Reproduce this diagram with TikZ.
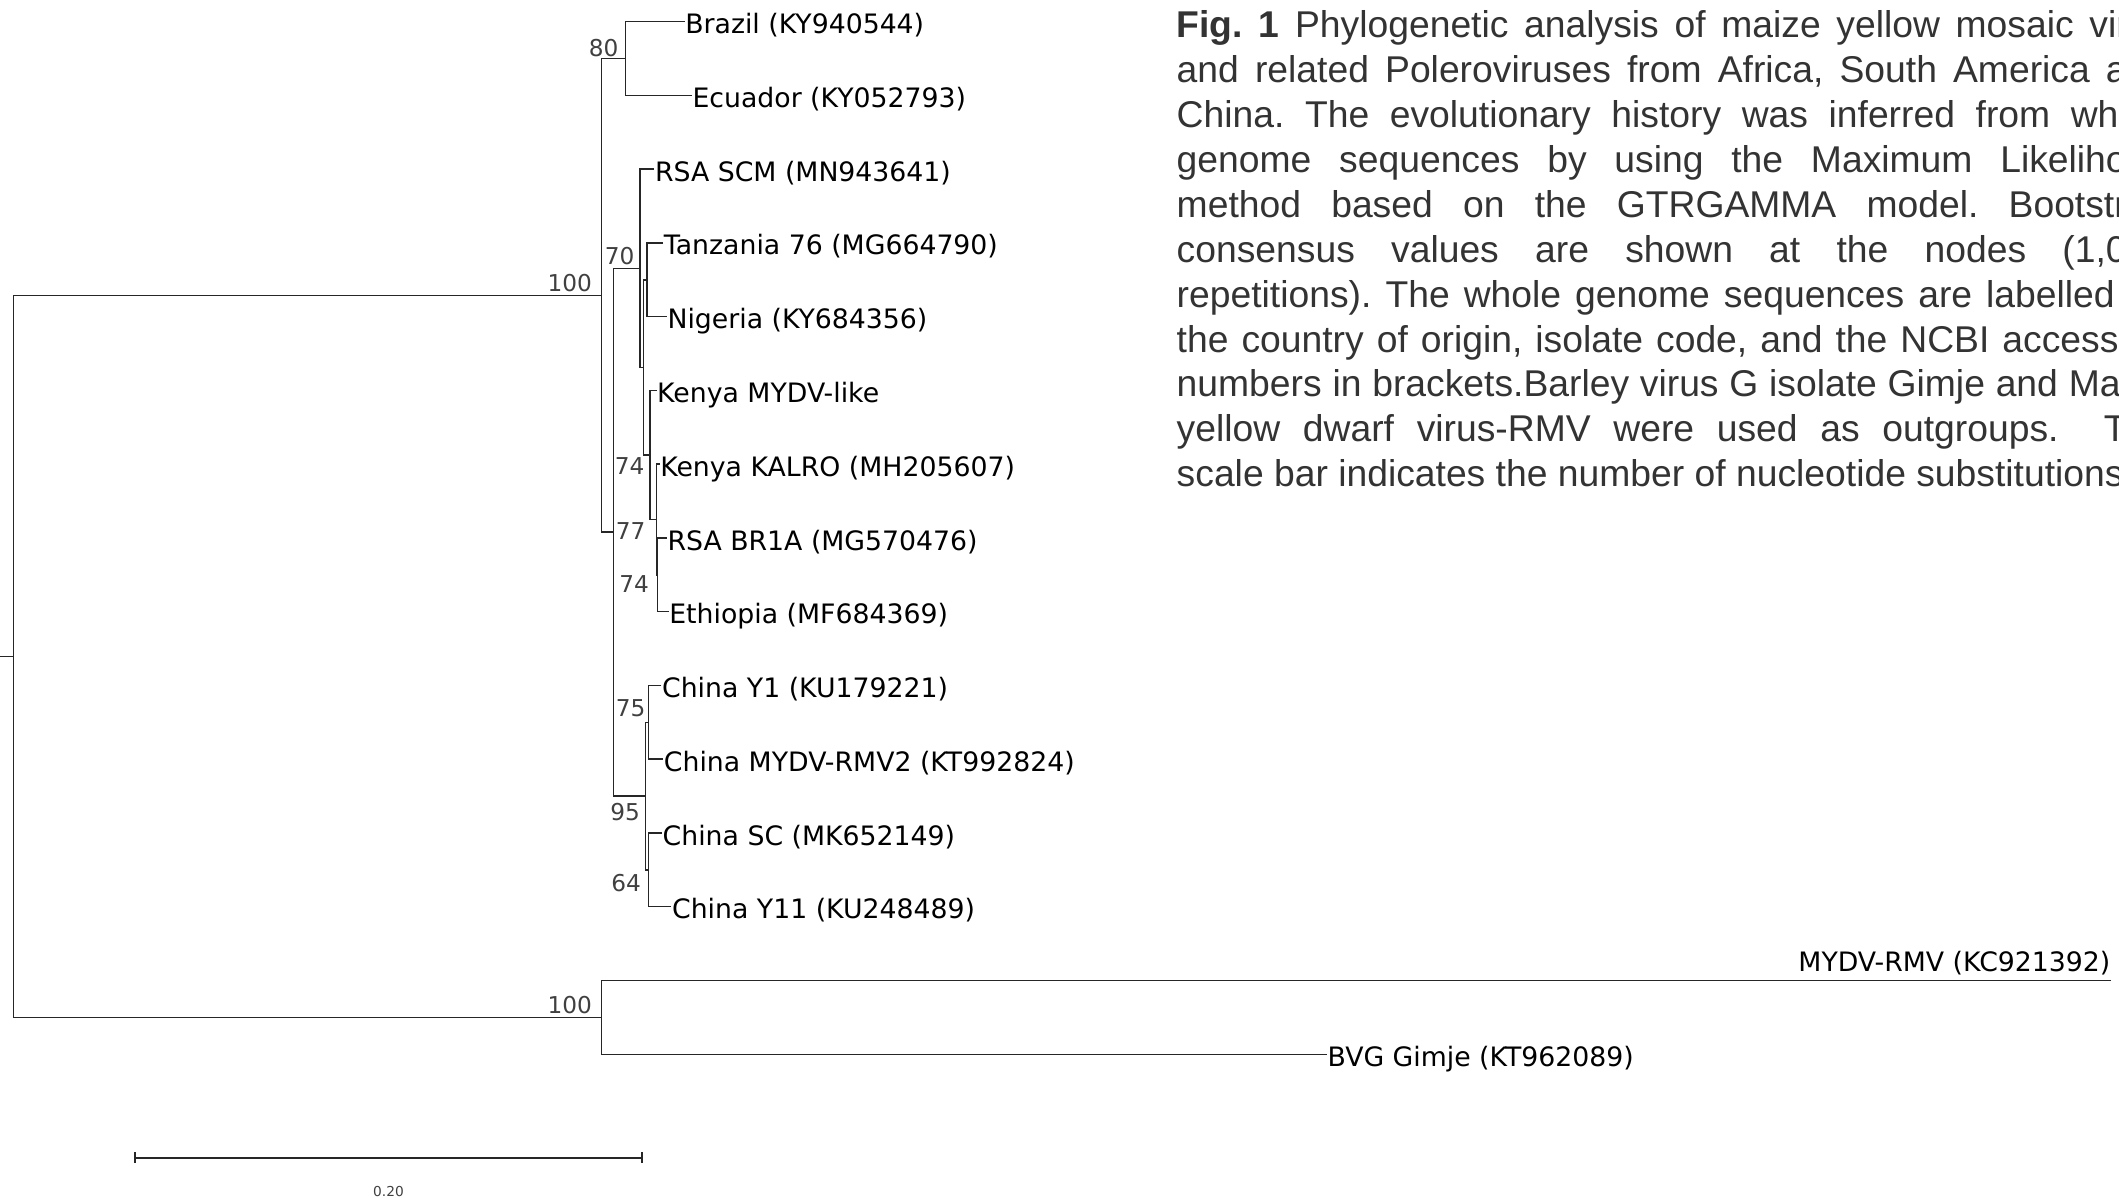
\documentclass[tikz,border=0pt]{standalone}
\usepackage{fontspec}
\setmainfont{DejaVu Sans}
\newfontfamily\capfont{Liberation Sans}
\usetikzlibrary{arrows.meta}
\frenchspacing
\definecolor{capgray}{HTML}{333333}
\definecolor{bootgray}{HTML}{404040}
\tikzset{
    branch/.style={line width=0.4pt, draw=black!85},
    tip/.style={anchor=base west, inner sep=0pt, yshift=-0.12cm,
                font=\fontsize{7.6}{9}\selectfont},
    tip above/.style={anchor=base east, inner sep=0pt, yshift=0.09cm,
                font=\fontsize{7.6}{9}\selectfont},
    boot/.style={anchor=base east, inner sep=0pt, text=bootgray,
                 font=\fontsize{6.6}{8}\selectfont},
    scalebar/.style={{Bar[width=0.11cm]}-{Bar[width=0.11cm]},
                     line width=0.6pt, draw=black!85},
    scale label/.style={inner sep=0pt, text=bootgray,
                 font=\fontsize{3.9}{5}\selectfont},
    caption line/.style={anchor=base west, inner sep=0pt, text=capgray,
                 font=\capfont\fontsize{10.6}{12.8}\selectfont},
}
% two children joined at a node: child1 -| node |- child2
\newcommand{\clade}[3]{
    \draw[branch] (#2) -| (#1) |- (#3);
}
\newcommand{\capline}[2]{
    \node[caption line] (cap#1) at (1176,{38+44.87*(#1-1)})
        {\makebox[9.91cm][s]{#2}};
}

\begin{document}
\begin{tikzpicture}[x=0.01cm, y=-0.01cm]
    \useasboundingbox (0,0) rectangle (2119,1198);
    \clip (0,0) rectangle (2119,1198);

    % tips
    \coordinate (tBrazil)   at (684.6,21.7);
    \coordinate (tEcuador)  at (691.8,95.5);
    \coordinate (tRsaScm)   at (654.3,169.2);
    \coordinate (tTanzania) at (663.2,243);
    \coordinate (tNigeria)  at (666.8,316.7);
    \coordinate (tKenyaMy)  at (656.5,390.5);
    \coordinate (tKenyaKa)  at (659.6,464.2);
    \coordinate (tRsaBr)    at (666.8,538);
    \coordinate (tEthiopia) at (668.6,611.7);
    \coordinate (tChinaY1)  at (661.4,685.5);
    \coordinate (tChinaRmv) at (663.2,759.2);
    \coordinate (tChinaSc)  at (662,833);
    \coordinate (tChinaY11) at (671.4,906.7);
    \coordinate (tMydvRmv)  at (2111,980.4);
    \coordinate (tBvg)      at (1327,1054.2);

    % internal nodes
    \coordinate (nBE)  at (657.5,574.85);
    \coordinate (n74b) at (656.4,519.5);
    \coordinate (n74a) at (650,455);
    \coordinate (nTN)  at (647.1,279.85);
    \coordinate (nX)   at (643.6,367.4);
    \coordinate (n70)  at (640,268.3);
    \coordinate (n75)  at (648.2,722.35);
    \coordinate (n64)  at (648.2,869.85);
    \coordinate (n95)  at (645.4,796.1);
    \coordinate (n77)  at (613.2,532.2);
    \coordinate (n80)  at (625.7,58.6);
    \coordinate (nIn)  at (601.5,295.4);
    \coordinate (nOut) at (601.5,1017.3);
    \coordinate (root) at (13.5,656.35);
    \coordinate (rootstub) at (0,656.35);

    \clade{nBE}{tRsaBr}{tEthiopia}
    \clade{n74b}{tKenyaKa}{nBE}
    \clade{n74a}{tKenyaMy}{n74b}
    \clade{nTN}{tTanzania}{tNigeria}
    \clade{nX}{nTN}{n74a}
    \clade{n70}{tRsaScm}{nX}
    \clade{n75}{tChinaY1}{tChinaRmv}
    \clade{n64}{tChinaSc}{tChinaY11}
    \clade{n95}{n75}{n64}
    \clade{n77}{n70}{n95}
    \clade{n80}{tBrazil}{tEcuador}
    \clade{nIn}{n80}{n77}
    \clade{nOut}{tMydvRmv}{tBvg}
    \clade{root}{nIn}{nOut}
    \draw[branch] (rootstub) -- (root);

    \node[tip] (brazil)   at (tBrazil)   {Brazil (KY940544)};
    \node[tip] (ecuador)  at (tEcuador)  {Ecuador (KY052793)};
    \node[tip] (rsascm)   at (tRsaScm)   {RSA SCM (MN943641)};
    \node[tip] (tanzania) at (tTanzania) {Tanzania 76 (MG664790)};
    \node[tip] (nigeria)  at (tNigeria)  {Nigeria (KY684356)};
    \node[tip] (kenyamy)  at (tKenyaMy)  {Kenya MYDV-like};
    \node[tip] (kenyaka)  at (tKenyaKa)  {Kenya KALRO (MH205607)};
    \node[tip] (rsabr)    at (tRsaBr)    {RSA BR1A (MG570476)};
    \node[tip] (ethiopia) at (tEthiopia) {Ethiopia (MF684369)};
    \node[tip] (chinay1)  at (tChinaY1)  {China Y1 (KU179221)};
    \node[tip] (chinarmv) at (tChinaRmv) {China MYDV-RMV2 (KT992824)};
    \node[tip] (chinasc)  at (tChinaSc)  {China SC (MK652149)};
    \node[tip] (chinay11) at (tChinaY11) {China Y11 (KU248489)};
    \node[tip above] (mydvrmv) at (tMydvRmv) {MYDV-RMV (KC921392)};
    \node[tip] (bvg)      at (tBvg)      {BVG Gimje (KT962089)};

    % bootstrap values
    \node[boot] (bIn)  at (592.5,291.5)  {100};
    \node[boot] (bOut) at (592.5,1013.5) {100};
    \node[boot] (b80)  at (619,56.8)     {80};
    \node[boot] (b70)  at (635,264.5)    {70};
    \node[boot] (b74a) at (645,475)      {74};
    \node[boot] (b77)  at (646,540)      {77};
    \node[boot] (b74b) at (649.5,593)    {74};
    \node[boot] (b75)  at (646,716)      {75};
    \node[boot] (b95)  at (640.5,820)    {95};
    \node[boot] (b64)  at (641.5,891)    {64};

    % scale
    \coordinate (sbl) at (133.7,1157.7);
    \coordinate (sbr) at (643.4,1157.7);
    \draw[scalebar] (sbl) -- (sbr);
    \node[scale label] (sblabel) at (388.5,1191) {0.20};

    % caption, cut off at the right edge
    \capline{1}{\textbf{Fig. 1} Phylogenetic analysis of maize yellow mosaic virus}
    \capline{2}{and related Poleroviruses from Africa, South America and}
    \capline{3}{China. The evolutionary history was inferred from whole}
    \capline{4}{genome sequences by using the Maximum Likelihood}
    \capline{5}{method based on the GTRGAMMA model. Bootstrap}
    \capline{6}{consensus values are shown at the nodes (1,000}
    \capline{7}{repetitions). The whole genome sequences are labelled by}
    \capline{8}{the country of origin, isolate code, and the NCBI accession}
    \capline{9}{numbers in brackets.Barley virus G isolate Gimje and Maize}
    \capline{10}{yellow dwarf virus-RMV were used as outgroups.\ \ The}
    \node[caption line] (cap11) at (1176,{38+44.87*10})
        {scale bar indicates the number of nucleotide substitutions};
\end{tikzpicture}
\end{document}
